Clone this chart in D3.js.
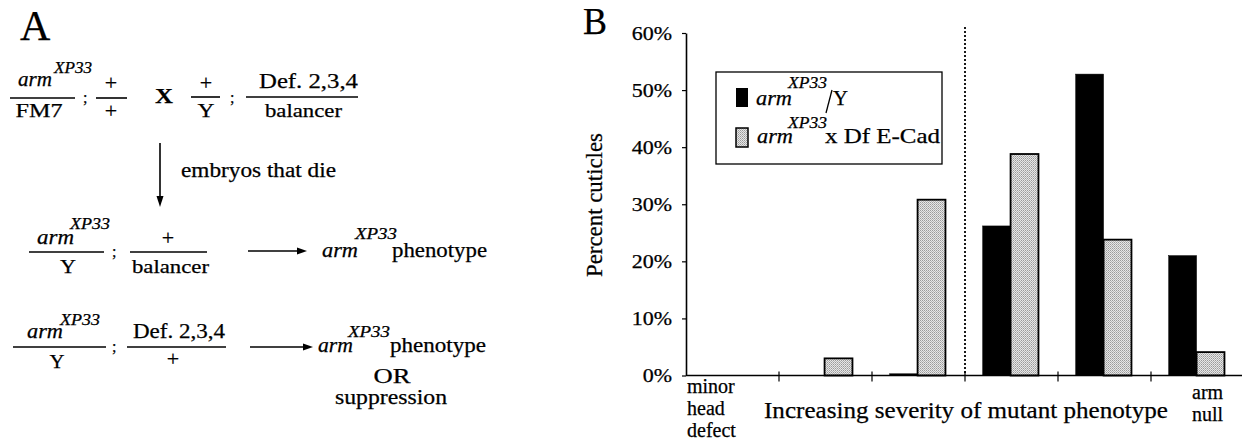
<!DOCTYPE html>
<html>
<head>
<meta charset="utf-8">
<script src="https://cdn.jsdelivr.net/npm/d3@7"></script>
<style>
  body { margin: 0; background: #fff; }
  svg text { font-family: "Liberation Serif", "Times New Roman", serif; fill: #000; stroke: #000; stroke-width: 0.25px; }
</style>
</head>
<body>
<div id="fig"></div>
<script>
// chart values (percent of cuticles per phenotype class)
var categories = ["c1", "c2", "c3", "c4", "c5", "c6"],
    categoryLabels = [["minor", "head", "defect"], [], [], [], [], ["arm", "null"]],
    seriesKeys = ["armY", "armDf"],
    armY = [0, 0, 0.3, 26.2, 52.8, 21.0],
    armDf = [0, 3.0, 30.8, 38.8, 23.8, 4.1],
    yTicks = [0, 10, 20, 30, 40, 50, 60];

var width = 1242, height = 441;
var svg = d3.select("#fig").append("svg")
    .attr("width", width)
    .attr("height", height);

// stipple pattern for the grey bars
var pat = svg.append("defs").append("pattern")
    .attr("id", "stipple")
    .attr("width", 2).attr("height", 2)
    .attr("patternUnits", "userSpaceOnUse");
pat.append("rect").attr("width", 2).attr("height", 2).attr("fill", "#e6e6e6");
pat.append("rect").attr("width", 1).attr("height", 1).attr("fill", "#9a9a9a");
pat.append("rect").attr("x", 1).attr("y", 1).attr("width", 1).attr("height", 1).attr("fill", "#b4b4b4");

// small helpers
function txt(g, s, x, y, size, opt) {
    opt = opt || {};
    var t = g.append("text")
        .attr("x", x).attr("y", y)
        .style("font-family", "\"Liberation Serif\", \"Times New Roman\", serif")
        .style("font-size", size + "px")
        .text(s);
    if (opt.anchor) t.attr("text-anchor", opt.anchor);
    if (opt.italic) t.style("font-style", "italic");
    if (opt.bold) t.style("font-weight", "bold");
    if (opt.w) t.attr("textLength", opt.w).attr("lengthAdjust", "spacingAndGlyphs");
    return t;
}
function hline(g, x1, x2, y) {
    g.append("line")
        .attr("x1", x1).attr("x2", x2).attr("y1", y).attr("y2", y)
        .attr("stroke", "#000").attr("stroke-width", 1.6);
}
function armXP(g, ax, ay, aw, sx, sy, sw) {
    txt(g, "arm", ax, ay, 20, {italic: true, w: aw});
    txt(g, "XP33", sx, sy, 16, {italic: true, w: sw});
}

// ---------- Panel A : cross scheme ----------
var panelA = svg.append("g").attr("class", "panel-a");
txt(panelA, "A", 20, 40, 42);

// parents
armXP(panelA, 18, 86, 34, 54, 73, 38);
hline(panelA, 10, 75, 98);
txt(panelA, "FM7", 39, 117, 18, {anchor: "middle", w: 47});
txt(panelA, ";", 83, 103, 16);
txt(panelA, "+", 111, 90, 22, {anchor: "middle"});
hline(panelA, 96, 127, 98);
txt(panelA, "+", 111, 118, 22, {anchor: "middle"});
txt(panelA, "X", 164, 103, 22, {anchor: "middle", bold: true, w: 18});
txt(panelA, "+", 206, 90, 22, {anchor: "middle"});
hline(panelA, 191, 220, 97);
txt(panelA, "Y", 206, 117, 18, {anchor: "middle", w: 17});
txt(panelA, ";", 230, 103, 16);
txt(panelA, "Def. 2,3,4", 259, 88, 20, {w: 99});
hline(panelA, 246, 358, 97);
txt(panelA, "balancer", 265, 117, 19, {w: 77});

// down arrow
panelA.append("line")
    .attr("x1", 160).attr("x2", 160).attr("y1", 143).attr("y2", 198)
    .attr("stroke", "#000").attr("stroke-width", 1.6);
panelA.append("polygon")
    .attr("points", "160,207 156.5,196 163.5,196")
    .attr("fill", "#000");
txt(panelA, "embryos that die", 181, 177, 20, {w: 155});

function rightArrow(g, x1, x2, y) {
    g.append("line")
        .attr("x1", x1).attr("x2", x2 - 8).attr("y1", y).attr("y2", y)
        .attr("stroke", "#000").attr("stroke-width", 1.6);
    g.append("polygon")
        .attr("points", x2 + "," + y + " " + (x2 - 10) + "," + (y - 3.5) + " " + (x2 - 10) + "," + (y + 3.5))
        .attr("fill", "#000");
}

// progeny 1
armXP(panelA, 37, 244, 37, 70, 229, 40);
hline(panelA, 29, 104, 252);
txt(panelA, "Y", 68, 273, 18, {anchor: "middle", w: 16});
txt(panelA, ";", 112, 257, 16);
txt(panelA, "+", 168, 245, 22, {anchor: "middle"});
hline(panelA, 130, 207, 252);
txt(panelA, "balancer", 132, 273, 19, {w: 77});
rightArrow(panelA, 248, 307, 251);
armXP(panelA, 322, 257, 36, 355, 239, 42);
txt(panelA, "phenotype", 392, 257, 20, {w: 95});

// progeny 2
armXP(panelA, 27, 338, 36, 60, 325, 40);
hline(panelA, 13, 106, 347);
txt(panelA, "Y", 57, 368, 18, {anchor: "middle", w: 15});
txt(panelA, ";", 112, 352, 16);
txt(panelA, "Def. 2,3,4", 133, 338, 20, {w: 92});
hline(panelA, 127, 226, 347);
txt(panelA, "+", 173, 366, 22, {anchor: "middle"});
rightArrow(panelA, 250, 313, 347);
armXP(panelA, 318, 352, 35, 348, 337, 42);
txt(panelA, "phenotype", 390, 352, 20, {w: 96});
txt(panelA, "OR", 392, 383, 20, {anchor: "middle", w: 37});
txt(panelA, "suppression", 391, 404, 20, {anchor: "middle", w: 112});

// ---------- Panel B : bar chart ----------
var panelB = svg.append("g").attr("class", "panel-b");
txt(panelB, "B", 583, 34, 38, {w: 24});

var x = d3.scaleBand().domain(categories).range([686, 1244]),
    xs = d3.scaleBand().domain(seriesKeys)
        .range([x.bandwidth() * 0.19, x.bandwidth() * 0.79]),
    y = d3.scaleLinear().domain([0, 60]).range([375.5, 33]);

var rows = categories.map(function(c, i) {
    return {cat: c, vals: [{key: "armY", v: armY[i]}, {key: "armDf", v: armDf[i]}]};
});

// y axis
var yAxis = d3.axisLeft(y)
    .tickValues(yTicks)
    .tickFormat(function(d) { return d + "%"; })
    .tickSize(4)
    .tickSizeOuter(0)
    .tickPadding(10);
var yG = panelB.append("g")
    .attr("transform", "translate(686,0)")
    .call(yAxis);
yG.select(".domain").attr("stroke-width", 1.6);
yG.selectAll(".tick line").attr("stroke-width", 1.2);
yG.selectAll(".tick text")
    .style("font-family", "\"Liberation Serif\", serif")
    .style("font-size", "18px")
    .attr("dy", "0.34em")
    .each(function() {
        var n = this.getComputedTextLength();
        d3.select(this).attr("textLength", n * 1.22).attr("lengthAdjust", "spacingAndGlyphs");
    });

txt(panelB, "Percent cuticles", 0, 0, 24, {anchor: "middle", w: 144})
    .attr("transform", "translate(602,205) rotate(-90)");

// bars
var groups = panelB.selectAll(".cat")
    .data(rows)
    .enter().append("g")
    .attr("class", "cat")
    .attr("transform", function(d) { return "translate(" + x(d.cat) + ",0)"; });
groups.selectAll("rect")
    .data(function(d) { return d.vals.filter(function(e) { return e.v > 0; }); })
    .enter().append("rect")
    .attr("x", function(d) { return xs(d.key); })
    .attr("y", function(d) { return y(d.v); })
    .attr("width", xs.bandwidth())
    .attr("height", function(d) { return y(0) - y(d.v); })
    .attr("fill", function(d) { return d.key == "armY" ? "#000" : "url(#stipple)"; })
    .attr("stroke", "#000")
    .attr("stroke-width", function(d) { return d.key == "armY" ? 0.5 : 1.8; });

// x axis with category boundary ticks
panelB.append("line")
    .attr("x1", 686).attr("x2", width).attr("y1", y(0)).attr("y2", y(0))
    .attr("stroke", "#000").attr("stroke-width", 1.6);
panelB.selectAll(".xtick")
    .data(categories.slice(1))
    .enter().append("line")
    .attr("class", "xtick")
    .attr("x1", function(d) { return x(d); })
    .attr("x2", function(d) { return x(d); })
    .attr("y1", y(0) - 4).attr("y2", y(0) + 6)
    .attr("stroke", "#000").attr("stroke-width", 1.2);

// dotted divider
panelB.append("line")
    .attr("x1", x("c4")).attr("x2", x("c4"))
    .attr("y1", 27).attr("y2", y(0))
    .attr("stroke", "#000").attr("stroke-width", 1.8)
    .attr("stroke-dasharray", "2,2");

// category labels (first and last only)
var firstLab = txt(panelB, "", x("c1") + 1, 393, 20);
categoryLabels[0].forEach(function(s, i) {
    firstLab.append("tspan").attr("x", x("c1") + 1).attr("y", 393 + i * 22).text(s);
});
var lastLab = txt(panelB, "", x("c6") + 41, 399, 20);
categoryLabels[5].forEach(function(s, i) {
    lastLab.append("tspan").attr("x", x("c6") + 41).attr("y", 399 + i * 22).text(s);
});
txt(panelB, "Increasing severity of mutant phenotype", 764, 418, 23, {w: 404});

// legend
var legend = panelB.append("g").attr("class", "legend");
legend.append("rect")
    .attr("x", 716).attr("y", 72).attr("width", 226).attr("height", 92)
    .attr("fill", "#fff").attr("stroke", "#000").attr("stroke-width", 1.3);
legend.append("rect")
    .attr("x", 736).attr("y", 88).attr("width", 12).attr("height", 19)
    .attr("fill", "#000");
legend.append("rect")
    .attr("x", 736).attr("y", 128).attr("width", 12).attr("height", 19)
    .attr("fill", "url(#stipple)").attr("stroke", "#000").attr("stroke-width", 1.5);
txt(legend, "arm", 756, 105, 21, {italic: true, w: 36});
txt(legend, "XP33", 788, 88, 17, {italic: true, w: 39});
legend.append("line")
    .attr("x1", 826).attr("y1", 113).attr("x2", 832).attr("y2", 90)
    .attr("stroke", "#000").attr("stroke-width", 1.3);
txt(legend, "Y", 833, 105, 21, {w: 15});
txt(legend, "arm", 757, 143, 21, {italic: true, w: 36});
txt(legend, "XP33", 788, 128, 17, {italic: true, w: 39});
txt(legend, "x Df E-Cad", 825, 143, 21, {w: 115});
</script>
</body>
</html>
